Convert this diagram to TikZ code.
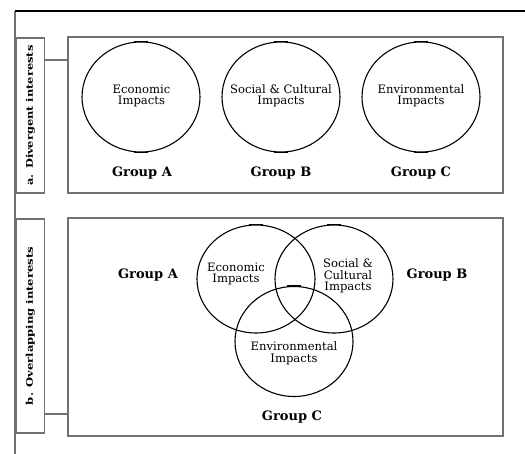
\documentclass[tikz,border=0pt]{standalone}
\usepackage{fontspec}
\setmainfont{DejaVu Serif}
\usetikzlibrary{shapes.geometric}
\definecolor{framegray}{HTML}{707070}
\begin{document}
\begin{tikzpicture}[x=1pt,y=-1pt,
  panel/.style={draw=framegray,line width=1.8pt,fill=white,inner sep=0pt},
  sidebox/.style={draw=framegray,line width=1.4pt,fill=white,inner sep=0pt,minimum width=28pt},
  link/.style={draw=framegray,line width=1.4pt},
  ell/.style={draw=black,line width=1.1pt,ellipse,inner sep=0pt,minimum width=118pt,minimum height=110pt},
  txt/.style={align=center,inner sep=0pt,font=\fontsize{11.6}{11.5}\selectfont},
  tick/.style={draw=black,line width=1.7pt},
  grp/.style={font=\bfseries\fontsize{13}{15}\selectfont},
  side/.style={rotate=90,inner sep=0pt}]
\useasboundingbox (0,0) rectangle (525,454);
\fill[white] (0,0) rectangle (525,454);
% frame lines
\coordinate (tl) at (15,11);
\coordinate (tr) at (525,11);
\coordinate (bl) at (15,454);
\draw[framegray,line width=1.8pt] (tl) -- (bl);
\draw[black,line width=2.2pt] (tl) -- (tr);
% side label boxes
\node[sidebox,minimum height=155pt] (la) at (30.5,115.5) {};
\node[side] at (la.center) {\resizebox{140pt}{7pt}{\bfseries a. Divergent interests}};
\node[sidebox,minimum height=214pt] (lb) at (30.5,326) {};
\node[side] at (lb.center) {\resizebox{158pt}{7pt}{\bfseries b. Overlapping interests}};
% panels
\node[panel,minimum width=435pt,minimum height=156pt] (pa) at (285.5,115) {};
\node[panel,minimum width=435pt,minimum height=218pt] (pb) at (285.5,327) {};
% connectors
\coordinate (ca) at (0,60);
\coordinate (cb) at (0,414);
\draw[link] (la.east |- ca) -- (pa.west |- ca);
\draw[link] (lb.east |- cb) -- (pb.west |- cb);
% panel a
\node[ell] (ea) at (141,97) {};
\node[ell] (eb) at (281,97) {};
\node[ell] (ec) at (421,97) {};
\foreach \e in {ea,eb,ec}{
  \draw[tick] ([xshift=-7pt]\e.north) -- ([xshift=7pt]\e.north);
  \draw[tick] ([xshift=-7pt]\e.south) -- ([xshift=7pt]\e.south);
}
\node[txt] (ta) at (141.5,96) {Economic\\Impacts};
\node[txt] (tb) at (281,96) {Social \& Cultural\\Impacts};
\node[txt] (tc) at (421,96) {Environmental\\Impacts};
\node[grp] (ga) at (142,173) {Group A};
\node[grp] (gb) at (281,173) {Group B};
\node[grp] (gc) at (421,173) {Group C};
% panel b
\node[ell,minimum height=108pt] (ve) at (256,279) {};
\node[ell,minimum height=108pt] (vs) at (334,279) {};
\node[ell,minimum height=110pt] (vn) at (294,341.5) {};
\foreach \e in {ve,vs,vn}{
  \draw[tick] ([xshift=-7pt]\e.north) -- ([xshift=7pt]\e.north);
}
\node[txt] (te) at (236,274) {Economic\\Impacts};
\node[txt] (ts) at (348,276) {Social \&\\Cultural\\Impacts};
\node[txt] (tn) at (294,353.5) {Environmental\\Impacts};
\node[grp] (gba) at (148,275) {Group A};
\node[grp] (gbb) at (437,275) {Group B};
\node[grp] (gbc) at (292,417) {Group C};
\end{tikzpicture}
\end{document}
